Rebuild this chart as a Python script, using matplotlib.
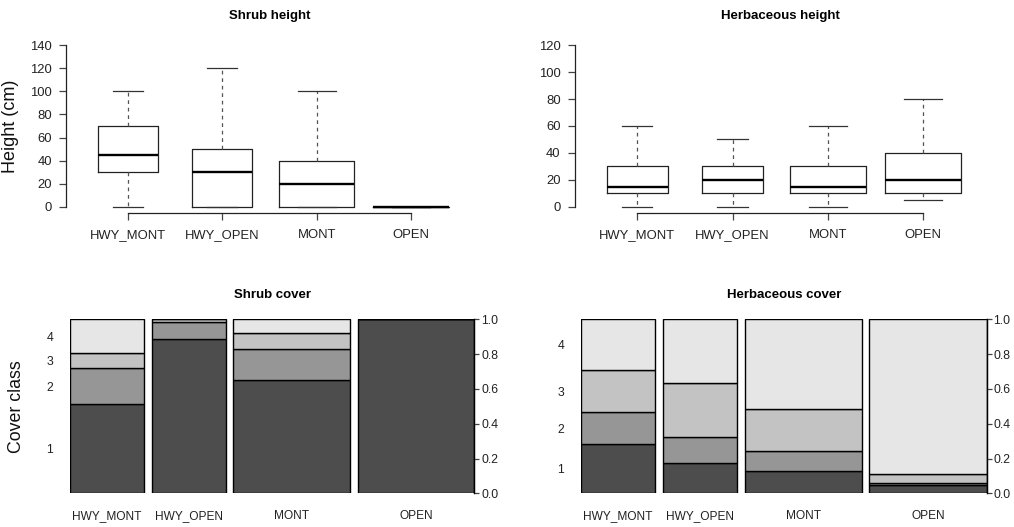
import numpy as np
import matplotlib
matplotlib.use("Agg")
import matplotlib.pyplot as plt

plt.rcParams['font.family'] = ['Liberation Sans', 'DejaVu Sans']

sites = ["HWY_MONT", "HWY_OPEN", "MONT", "OPEN"]
n_plots = [19, 19, 30, 30]

# boxplot stats: whisker low, q1, median, q3, whisker high
shrub_lo = [0, 0, 0, 0]
shrub_q1 = [30, 0, 0, 0]
shrub_med = [45, 30, 20, 0]
shrub_q3 = [70, 50, 40, 0]
shrub_hi = [100, 120, 100, 0]

herb_lo = [0, 0, 0, 5]
herb_q1 = [10, 10, 10, 10]
herb_med = [15, 20, 15, 20]
herb_q3 = [30, 30, 30, 40]
herb_hi = [60, 50, 60, 80]

# cover class proportions per site (class 1..4)
shrub_c1 = [0.511, 0.885, 0.653, 1.0]
shrub_c2 = [0.211, 0.100, 0.177, 0.0]
shrub_c3 = [0.086, 0.015, 0.091, 0.0]
shrub_c4 = [0.192, 0.000, 0.079, 0.0]

herb_c1 = [0.282, 0.174, 0.130, 0.048]
herb_c2 = [0.184, 0.150, 0.113, 0.013]
herb_c3 = [0.241, 0.308, 0.244, 0.050]
herb_c4 = [0.293, 0.368, 0.513, 0.889]

cover_classes = ["1", "2", "3", "4"]
grays = ["#4D4D4D", "#969696", "#C3C3C3", "#E6E6E6"]

fig = plt.figure(figsize=(10.14, 5.27), dpi=100)
W, H = 1014, 527


def px_axes(l, r, t, b):
    return fig.add_axes([l / W, (H - b) / H, (r - l) / W, (b - t) / H])


def boxpanel(ax, lo, q1, med, q3, hi, ymax, title):
    stats = []
    for i in range(len(sites)):
        stats.append(dict(whislo=lo[i], q1=q1[i], med=med[i], q3=q3[i], whishi=hi[i], label=sites[i]))
    widths = [0.8 * np.sqrt(n / max(n_plots)) for n in n_plots]
    ax.bxp(stats, positions=range(1, 5), widths=widths, capwidths=[w * 0.5 for w in widths],
           showfliers=False,
           boxprops=dict(color="#222222", linewidth=0.9),
           medianprops=dict(color="black", linewidth=1.7, solid_capstyle="butt"),
           whiskerprops=dict(color="#555555", linewidth=0.9, linestyle=(0, (3, 3))),
           capprops=dict(color="#333333", linewidth=0.9))
    ax.set_xlim(0.34, 4.66)
    ax.set_ylim(-0.04 * ymax, 1.04 * ymax)
    ax.set_yticks(np.arange(0, ymax + 1, 20))
    ax.set_xticks(range(1, 5))
    ax.set_xticklabels(sites)
    for s in ["top", "right"]:
        ax.spines[s].set_visible(False)
    ax.spines["left"].set_bounds(0, ymax)
    ax.spines["bottom"].set_bounds(1, 4)
    for s in ["left", "bottom"]:
        ax.spines[s].set_linewidth(0.9)
        ax.spines[s].set_color("#222222")
    ax.tick_params(direction="out", length=5, width=0.9, color="#444444",
                   labelsize=9.4, pad=5, labelcolor="#222222")
    ax.tick_params(axis="x", pad=6.5)
    ax.set_title(title, fontsize=9.5, fontweight="bold", pad=14.5)


def spinepanel(ax, classes, title):
    total = sum(n_plots)
    props = [n / total for n in n_plots]
    gap = 0.02
    lefts = []
    x = 0.0
    for p in props:
        lefts.append(x)
        x += p + gap
    bottom = np.zeros(len(sites))
    for k, vals in enumerate(classes):
        ax.bar(lefts, vals, width=props, bottom=bottom, align="edge",
               color=grays[k], edgecolor="black", linewidth=1.0)
        bottom += np.array(vals)
    ax.set_xlim(0, 1 + gap * (len(sites) - 1))
    ax.set_ylim(0, 1)
    # left labels at midpoints of first site
    cum = np.cumsum([c[0] for c in classes])
    mids = (np.concatenate([[0], cum[:-1]]) + cum) / 2
    ax.set_yticks(mids)
    ax.set_yticklabels(cover_classes)
    ax.tick_params(axis="y", length=0, pad=12, labelsize=8.8, labelcolor="#222222")
    ax.set_xticks([l + p / 2 for l, p in zip(lefts, props)])
    ax.set_xticklabels(sites)
    ax.tick_params(axis="x", length=0, pad=12, labelsize=8.6, labelcolor="#222222")
    for s in ["top", "left", "bottom"]:
        ax.spines[s].set_visible(False)
    ax.spines["right"].set_linewidth(0.9)
    ax2 = ax.twinx()
    ax2.set_ylim(0, 1)
    ax2.set_yticks(np.arange(0, 1.01, 0.2))
    ax2.set_yticklabels(["%.1f" % v for v in np.arange(0, 1.01, 0.2)])
    for s in ["top", "left", "bottom"]:
        ax2.spines[s].set_visible(False)
    ax2.spines["right"].set_linewidth(0.9)
    ax2.tick_params(direction="out", length=3.6, width=0.9, pad=1.5, labelsize=8.8,
                    color="#444444", labelcolor="#222222")
    ax.set_title(title, fontsize=9.5, fontweight="bold", pad=15)


ax1 = px_axes(65.7, 473.3, 38.8, 213.15)
boxpanel(ax1, shrub_lo, shrub_q1, shrub_med, shrub_q3, shrub_hi, 140, "Shrub height")
ax1.set_ylabel("Height (cm)", fontsize=13, color="#111111")
ax1.yaxis.set_label_coords(-0.1146, 0.5)

ax2 = px_axes(574.5, 985.8, 38.8, 213.15)
boxpanel(ax2, herb_lo, herb_q1, herb_med, herb_q3, herb_hi, 120, "Herbaceous height")

ax3 = px_axes(70, 474.3, 319.3, 493.3)
spinepanel(ax3, [shrub_c1, shrub_c2, shrub_c3, shrub_c4], "Shrub cover")
ax3.set_ylabel("Cover class", fontsize=12.8, color="#111111")
ax3.yaxis.set_label_coords(-0.111, 0.5)

ax4 = px_axes(581, 986.5, 319.3, 493.3)
spinepanel(ax4, [herb_c1, herb_c2, herb_c3, herb_c4], "Herbaceous cover")

fig.savefig("out.png", dpi=100)
